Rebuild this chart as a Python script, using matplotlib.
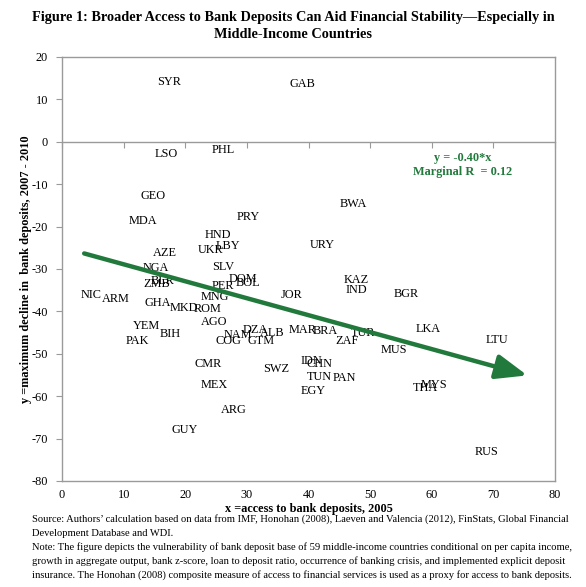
import matplotlib
matplotlib.use('Agg')
import matplotlib.pyplot as plt
import numpy as np

plt.rcParams['font.family'] = ['Liberation Serif', 'DejaVu Serif']
plt.rcParams['axes.unicode_minus'] = False

# country labels placed at (access, decline)
countries = ['SYR', 'GAB', 'LSO', 'PHL', 'GEO', 'MDA', 'PRY', 'HND', 'LBY', 'UKR',
             'AZE', 'NGA', 'SLV', 'URY', 'BWA', 'NIC', 'ARM', 'ZMB', 'BLR', 'GHA',
             'MKD', 'ROM', 'MNG', 'PER', 'DOM', 'BOL', 'JOR', 'AGO', 'YEM', 'BIH',
             'PAK', 'NAM', 'DZA', 'ALB', 'COG', 'GTM', 'MAR', 'BRA', 'CMR', 'SWZ',
             'MEX', 'ARG', 'GUY', 'KAZ', 'IND', 'BGR', 'TUR', 'ZAF', 'LKA', 'LTU',
             'MUS', 'IDN', 'CHN', 'TUN', 'PAN', 'EGY', 'THA', 'MYS', 'RUS']
access = [17.4, 39.0, 17.0, 26.2, 14.7, 13.1, 30.2, 25.3, 27.0, 24.1,
          16.7, 15.3, 26.2, 42.2, 47.2, 4.8, 8.7, 15.3, 16.3, 15.6,
          19.8, 23.6, 24.8, 26.1, 29.4, 30.1, 37.3, 24.7, 13.7, 17.5,
          12.2, 28.5, 31.3, 34.1, 27.0, 32.3, 39.0, 42.7, 23.7, 34.8,
          24.7, 27.8, 19.9, 47.8, 47.8, 55.8, 48.9, 46.2, 59.5, 70.6,
          53.8, 40.4, 41.8, 41.7, 45.8, 40.7, 59.0, 60.3, 68.9]
decline = [14.1, 13.7, -2.8, -2.0, -12.9, -18.7, -17.8, -22.1, -24.5, -25.5,
           -26.3, -29.7, -29.5, -24.3, -14.6, -36.2, -37.0, -33.5, -32.9, -38.0,
           -39.2, -39.4, -36.7, -33.9, -32.3, -33.3, -36.2, -42.4, -43.4, -45.3,
           -46.9, -45.5, -44.5, -45.1, -47.1, -47.1, -44.5, -44.6, -52.4, -53.6,
           -57.3, -63.2, -67.9, -32.7, -34.9, -35.8, -45.1, -47.1, -44.1, -46.8,
           -49.2, -51.6, -52.4, -55.4, -55.8, -58.7, -58.1, -57.3, -73.2]

# fitted trend shown as an arrow
fit_slope = -0.40
fit_intercept = -24.9
fit_x = [3.6, 75.5]

x_ticks = list(range(0, 81, 10))
y_ticks = list(range(-80, 21, 10))

GREEN = '#217a3c'
GRID = '#9a9a9a'

fig = plt.figure(figsize=(5.86, 5.87), dpi=100)
ax = fig.add_axes([0.1058, 0.1806, 0.8414, 0.7224])

for name, xv, yv in zip(countries, access, decline):
    ax.text(xv, yv, name, ha='center', va='center', fontsize=8.8, color='black')

x0, x1 = fit_x
y0 = fit_slope * x0 + fit_intercept
y1 = fit_slope * x1 + fit_intercept
ax.annotate('', xy=(x1, y1), xytext=(x0, y0),
            arrowprops=dict(arrowstyle='-|>,head_length=1.9,head_width=0.75',
                            color=GREEN, lw=3.2, shrinkA=0, shrinkB=0))
ax.text(65, -5.4, 'y = -0.40*x\nMarginal R  = 0.12', ha='center', va='center',
        fontsize=8.8, fontweight='bold', color=GREEN, linespacing=1.2)

ax.set_xlim(0, 80)
ax.set_ylim(-80, 20)
ax.set_xticks(x_ticks)
ax.set_yticks(y_ticks)
ax.tick_params(axis='x', length=0, pad=6, labelsize=8.8)
ax.tick_params(axis='y', length=4, color=GRID, labelsize=8.8, pad=6)
for s in ax.spines.values():
    s.set_color(GRID)
    s.set_linewidth(1.0)

# horizontal axis crossing at y = 0
zero_ax = ax.secondary_xaxis((0 - (-80)) / 100)
zero_ax.set_xticks(x_ticks)
zero_ax.xaxis.set_ticks_position('bottom')
zero_ax.tick_params(axis='x', direction='out', length=4, color=GRID, labelbottom=False,
                    labeltop=False)
zero_ax.set_xticklabels([])
for s in zero_ax.spines.values():
    s.set_color(GRID)
    s.set_linewidth(1.0)

ax.set_xlabel('x =access to bank deposits, 2005', fontsize=8.8, fontweight='bold', labelpad=1)
ax.set_ylabel('y =maximum decline in  bank deposits, 2007 - 2010', fontsize=8.8,
              fontweight='bold', va='center')
ax.yaxis.set_label_coords(-0.073, 0.5)

fig.text(0.5, 0.971, 'Figure 1: Broader Access to Bank Deposits Can Aid Financial Stability\u2014Especially in',
         ha='center', va='center', fontsize=10.3, fontweight='bold')
fig.text(0.5, 0.941, 'Middle-Income Countries', ha='center', va='center',
         fontsize=10.3, fontweight='bold')

notes = [
    'Source: Authors\u2019 calculation based on data from IMF, Honohan (2008), Laeven and Valencia (2012), FinStats, Global Financial',
    'Development Database and WDI.',
    'Note: The figure depicts the vulnerability of bank deposit base of 59 middle-income countries conditional on per capita income,',
    'growth in aggregate output, bank z-score, loan to deposit ratio, occurrence of banking crisis, and implemented explicit deposit',
    'insurance. The Honohan (2008) composite measure of access to financial services is used as a proxy for access to bank deposits.',
]
for i, line in enumerate(notes):
    fig.text(32 / 586, 1 - (519 + 14 * i) / 587, line, ha='left', va='center', fontsize=7.6)

fig.savefig('out.png', dpi=100)
plt.close(fig)
